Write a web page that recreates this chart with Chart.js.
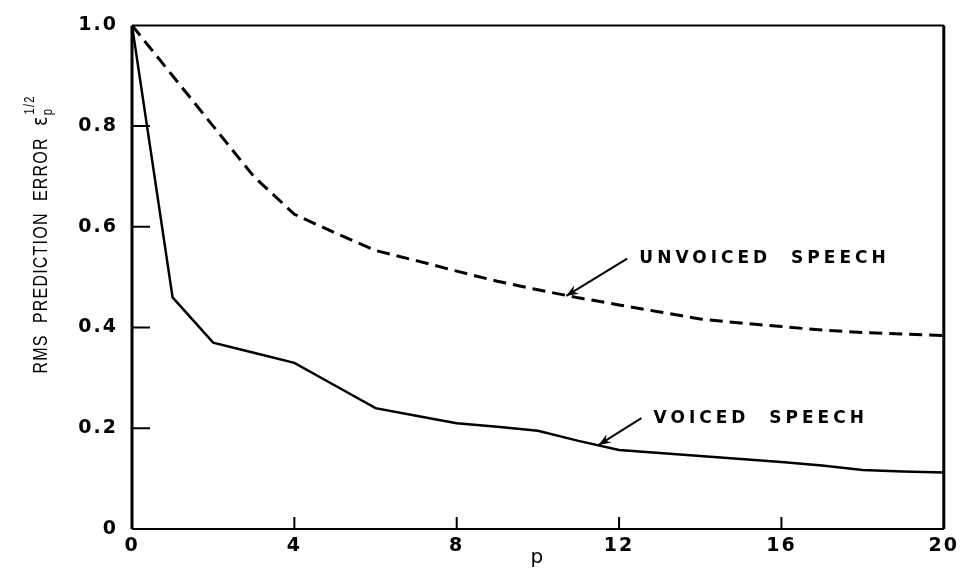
<!DOCTYPE html>
<html>
<head>
<meta charset="utf-8">
<script src="https://cdn.jsdelivr.net/npm/chart.js@4.4.0/dist/chart.umd.min.js"></script>
<style>
  html, body { margin: 0; padding: 0; background: #fff; }
</style>
</head>
<body>
<canvas id="rms_err" width="963" height="570"></canvas>
<script>
// predictor order p
var orderP = [0, 1, 2, 3, 4, 5, 6, 7, 8, 9, 10, 11, 12, 13, 14, 15, 16, 17, 18, 19, 20];
// rms prediction error
var voiced = [1.0, 0.46, 0.37, 0.35, 0.33, 0.285, 0.24, 0.225, 0.21, 0.203, 0.195, 0.175, 0.157, 0.151, 0.145, 0.139, 0.133, 0.126, 0.117, 0.114, 0.112];
var unvoiced = [1.0, 0.90, 0.80, 0.70, 0.625, 0.588, 0.553, 0.533, 0.512, 0.492, 0.475, 0.459, 0.445, 0.431, 0.417, 0.409, 0.402, 0.395, 0.39, 0.387, 0.384];
var xTicks = [0, 4, 8, 12, 16, 20];
var yTicks = [0, 0.2, 0.4, 0.6, 0.8, 1.0];

function toPoints(ys) {
    return orderP.map(function (p, i) { return { x: p, y: ys[i] }; });
}

function arrow(ctx, x0, y0, x1, y1) {
    var ang = Math.atan2(y1 - y0, x1 - x0);
    ctx.beginPath();
    ctx.moveTo(x0, y0);
    ctx.lineTo(x1, y1);
    ctx.stroke();
    ctx.beginPath();
    ctx.moveTo(x1, y1);
    ctx.lineTo(x1 - 13 * Math.cos(ang - 0.38), y1 - 13 * Math.sin(ang - 0.38));
    ctx.lineTo(x1 - 8 * Math.cos(ang), y1 - 8 * Math.sin(ang));
    ctx.lineTo(x1 - 13 * Math.cos(ang + 0.38), y1 - 13 * Math.sin(ang + 0.38));
    ctx.closePath();
    ctx.fill();
}

// frame, inward ticks, curve labels and the y title
var paperStyle = {
    id: 'paperStyle',
    beforeDraw: function (chart) {
        // wide spacing for the axis numbers
        chart.ctx.letterSpacing = '2px';
    },
    afterDraw: function (chart) {
        var ctx = chart.ctx, a = chart.chartArea;
        var xs = chart.scales.x, ys = chart.scales.y;
        ctx.save();
        ctx.strokeStyle = '#000';
        ctx.fillStyle = '#000';

        // box
        ctx.lineWidth = 2;
        ctx.beginPath();
        ctx.moveTo(a.left, a.top); ctx.lineTo(a.right, a.top);
        ctx.moveTo(a.left, a.bottom); ctx.lineTo(a.right, a.bottom);
        ctx.stroke();
        ctx.lineWidth = 3;
        ctx.beginPath();
        ctx.moveTo(a.left, a.top); ctx.lineTo(a.left, a.bottom);
        ctx.moveTo(a.right, a.top); ctx.lineTo(a.right, a.bottom);
        ctx.stroke();

        // ticks pointing inside
        ctx.lineWidth = 2;
        ctx.beginPath();
        yTicks.slice(1, -1).forEach(function (v) {
            var y = ys.getPixelForValue(v);
            ctx.moveTo(a.left, y); ctx.lineTo(a.left + 18, y);
        });
        xTicks.slice(1, -1).forEach(function (v) {
            var x = xs.getPixelForValue(v);
            ctx.moveTo(x, a.bottom); ctx.lineTo(x, a.bottom - 12);
        });
        ctx.stroke();

        // curve labels
        ctx.font = 'bold 17px "DejaVu Sans"';
        ctx.letterSpacing = '4px';
        ctx.textBaseline = 'middle';
        ctx.fillText('UNVOICED  SPEECH', xs.getPixelForValue(12.5), ys.getPixelForValue(0.537));
        ctx.fillText('VOICED  SPEECH', xs.getPixelForValue(12.85), ys.getPixelForValue(0.22));
        ctx.lineWidth = 2;
        arrow(ctx, xs.getPixelForValue(12.2), ys.getPixelForValue(0.537),
                   xs.getPixelForValue(10.7), ys.getPixelForValue(0.463));
        arrow(ctx, xs.getPixelForValue(12.55), ys.getPixelForValue(0.22),
                   xs.getPixelForValue(11.5), ys.getPixelForValue(0.167));

        // y title, condensed
        ctx.letterSpacing = '1.5px';
        ctx.translate(41, 234);
        ctx.rotate(-Math.PI / 2);
        ctx.scale(0.8, 1);
        var main = 'RMS  PREDICTION  ERROR  ';
        ctx.font = '20px "Liberation Sans"';
        var wMain = ctx.measureText(main).width;
        ctx.font = '22px "DejaVu Sans"';
        var wEps = ctx.measureText('\u03b5').width;
        ctx.font = '14px "Liberation Sans"';
        var wSup = ctx.measureText('1/2').width;
        var x0 = -(wMain + wEps + wSup + 2) / 2;
        ctx.textBaseline = 'middle';
        ctx.font = '20px "Liberation Sans"';
        ctx.fillText(main, x0, 0);
        ctx.font = '22px "DejaVu Sans"';
        ctx.fillText('\u03b5', x0 + wMain, 0);
        ctx.font = '14px "Liberation Sans"';
        ctx.fillText('p', x0 + wMain + wEps, 7);
        ctx.fillText('1/2', x0 + wMain + wEps + 1, -11);
        ctx.restore();
        ctx.letterSpacing = '0px';
    }
};

var ctx = document.getElementById('rms_err').getContext('2d');
var chart = new Chart(ctx, {
    type: 'line',
    data: {
        datasets: [{
            label: 'UNVOICED SPEECH',
            data: toPoints(unvoiced),
            borderColor: '#000',
            borderWidth: 3,
            borderDash: [13, 7],
            pointRadius: 0,
            tension: 0
        }, {
            label: 'VOICED SPEECH',
            data: toPoints(voiced),
            borderColor: '#000',
            borderWidth: 2.5,
            pointRadius: 0,
            tension: 0
        }]
    },
    options: {
        responsive: false,
        animation: false,
        devicePixelRatio: 1,
        layout: { padding: { left: 0, top: 19, right: 17, bottom: 0 } },
        plugins: {
            legend: { display: false },
            tooltip: { enabled: false }
        },
        scales: {
            x: {
                type: 'linear',
                min: 0,
                max: 20,
                afterBuildTicks: function (s) { s.ticks = xTicks.map(function (v) { return { value: v }; }); },
                afterFit: function (s) { s.height = 41; },
                grid: { display: false, drawTicks: false },
                border: { display: false },
                ticks: {
                    color: '#000',
                    padding: 6,
                    maxRotation: 0,
                    font: { family: 'DejaVu Sans', size: 19, weight: 'bold' }
                },
                title: {
                    display: true,
                    text: 'p',
                    color: '#000',
                    padding: 0,
                    font: { family: 'DejaVu Sans', size: 20 }
                }
            },
            y: {
                min: 0,
                max: 1,
                afterBuildTicks: function (s) { s.ticks = yTicks.map(function (v) { return { value: v }; }); },
                afterFit: function (s) { s.width = 132; },
                grid: { display: false, drawTicks: false },
                border: { display: false },
                ticks: {
                    color: '#000',
                    padding: 14,
                    font: { family: 'DejaVu Sans', size: 19, weight: 'bold' },
                    callback: function (v) { return v === 0 ? '0' : v.toFixed(1); }
                }
            }
        }
    },
    plugins: [paperStyle]
});
</script>
</body>
</html>
